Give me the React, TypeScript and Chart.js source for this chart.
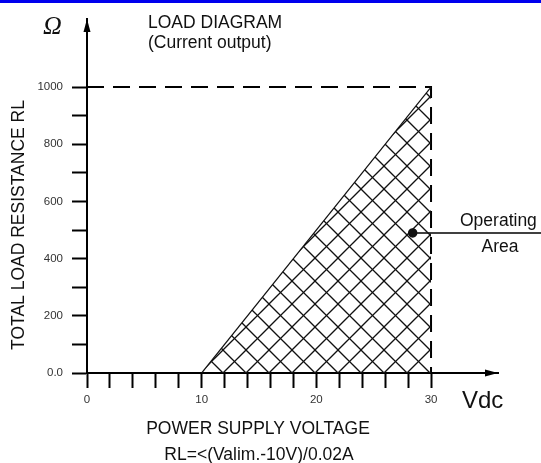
import React, { useEffect, useRef } from "react";
import { Chart, registerables } from "chart.js";

Chart.register(...registerables);

// ---- data ----
const hatchX = [10, 30];
const hatchY = [0, 1000];
const limitX = [0, 30, 30];
const limitY = [1000, 1000, 0];
const operatingX = [28.4, 39.6];
const operatingY = [490, 490];
const xMax = 35.84;
const yMax = 1238;
const xTickStep = 2;
const yTickStep = 100;
const xLabelEvery = 10;
const yLabelEvery = 200;
const xLastTick = 30;
const yLastTick = 1000;

const titleLines = ["LOAD DIAGRAM", "(Current output)"];
const yTitle = "TOTAL LOAD RESISTANCE RL";
const xTitle = "POWER SUPPLY VOLTAGE";
const formula = "RL=<(Valim.-10V)/0.02A";
const unitY = "Ω";
const unitX = "Vdc";
const opLabel = ["Operating", "Area"];

const FONT = "'Liberation Sans', Arial, sans-serif";

function makeHatch(): CanvasPattern | string {
  const s = 23;
  const c = document.createElement("canvas");
  c.width = s;
  c.height = s;
  const g = c.getContext("2d");
  if (!g) return "rgba(0,0,0,0.2)";
  g.strokeStyle = "#111";
  g.lineWidth = 1.3;
  for (const k of [-s, 0, s]) {
    g.beginPath();
    g.moveTo(-2 + k, -2);
    g.lineTo(s + 2 + k, s + 2);
    g.stroke();
    g.beginPath();
    g.moveTo(-2 + k, s + 2);
    g.lineTo(s + 2 + k, -2);
    g.stroke();
  }
  const p = g.createPattern(c, "repeat");
  if (!p) return "rgba(0,0,0,0.2)";
  try {
    p.setTransform(new DOMMatrix([1, 0, 0, 1, 223, 373]));
  } catch (e) {}
  return p;
}

const decorPlugin = {
  id: "decor",
  beforeDraw(chart: any) {
    const ctx = chart.ctx;
    ctx.save();
    ctx.fillStyle = "#0000ee";
    ctx.fillRect(0, 0, chart.width, 3);
    ctx.restore();
  },
  afterDraw(chart: any) {
    const ctx = chart.ctx;
    const { left, right, top, bottom } = chart.chartArea;
    ctx.save();
    ctx.fillStyle = "#000";
    // y arrow
    ctx.beginPath();
    ctx.moveTo(left, top);
    ctx.lineTo(left - 3.5, top + 13);
    ctx.lineTo(left + 3.5, top + 13);
    ctx.closePath();
    ctx.fill();
    // x arrow
    ctx.beginPath();
    ctx.moveTo(right, bottom);
    ctx.lineTo(right - 13, bottom - 3.5);
    ctx.lineTo(right - 13, bottom + 3.5);
    ctx.closePath();
    ctx.fill();

    ctx.fillStyle = "#111";
    ctx.textBaseline = "middle";
    // Omega
    ctx.font = "italic 26px 'Liberation Serif', 'DejaVu Serif', serif";
    ctx.textAlign = "left";
    ctx.fillText(unitY, 43, 27);
    // Title
    ctx.font = `17.5px ${FONT}`;
    ctx.fillText(titleLines[0], 148, 23);
    ctx.fillText(titleLines[1], 148, 43);
    // Vdc
    ctx.font = `24px ${FONT}`;
    ctx.fillText(unitX, 462, 401);
    // x titles
    ctx.font = `17.5px ${FONT}`;
    ctx.textAlign = "center";
    ctx.fillText(xTitle, 258, 429);
    ctx.fillText(formula, 259, 455);
    // operating label
    ctx.textAlign = "left";
    ctx.fillText(opLabel[0], 460, 221);
    ctx.textAlign = "center";
    ctx.fillText(opLabel[1], 500, 247);
    // y title
    ctx.save();
    ctx.translate(19, 225);
    ctx.rotate(-Math.PI / 2);
    ctx.textAlign = "center";
    ctx.fillText(yTitle, 0, 0);
    ctx.restore();
    ctx.restore();
  },
};

export default function App() {
  const ref = useRef<HTMLCanvasElement | null>(null);
  useEffect(() => {
    if (!ref.current) return;
    const pts = (xs: number[], ys: number[]) => xs.map((x, i) => ({ x, y: ys[i] }));
    const chart = new Chart(ref.current, {
      type: "scatter",
      data: {
        datasets: [
          {
            data: pts(hatchX, hatchY),
            showLine: true,
            fill: "origin",
            backgroundColor: makeHatch() as any,
            borderColor: "#111",
            borderWidth: 1.2,
            pointRadius: 0,
          },
          {
            data: pts(limitX, limitY),
            showLine: true,
            fill: false,
            borderColor: "#000",
            borderWidth: 2,
            borderDash: [17, 9],
            pointRadius: 0,
          },
          {
            data: pts(operatingX, operatingY),
            showLine: true,
            fill: false,
            borderColor: "#000",
            borderWidth: 1.5,
            pointRadius: [4, 0],
            pointBackgroundColor: "#111",
            pointBorderColor: "#111",
            clip: false as any,
          },
        ],
      },
      options: {
        animation: false,
        responsive: true,
        maintainAspectRatio: false,
        layout: { padding: { left: 0, right: 43, top: 19, bottom: 30 } },
        plugins: { legend: { display: false }, tooltip: { enabled: false } },
        scales: {
          x: {
            type: "linear",
            min: 0,
            max: xMax,
            afterFit: (s: any) => {
              s.height = 60;
            },
            afterBuildTicks: (s: any) => {
              s.ticks = s.ticks.filter((t: any) => t.value <= xLastTick + 1e-6);
            },
            border: { display: true, color: "#000", width: 2 },
            grid: {
              drawOnChartArea: false,
              drawTicks: true,
              tickLength: 15,
              tickWidth: 2,
              tickColor: "#000",
            },
            ticks: {
              stepSize: xTickStep,
              autoSkip: false,
              maxRotation: 0,
              padding: 5,
              color: "#333",
              font: { family: FONT, size: 11.5 },
              callback: (v: any) => (Number(v) % xLabelEvery === 0 ? String(v) : ""),
            },
          },
          y: {
            type: "linear",
            min: 0,
            max: yMax,
            afterFit: (s: any) => {
              s.width = 87;
            },
            afterBuildTicks: (s: any) => {
              s.ticks = s.ticks.filter((t: any) => t.value <= yLastTick + 1e-6);
            },
            border: { display: true, color: "#000", width: 2 },
            grid: {
              drawOnChartArea: false,
              drawTicks: true,
              tickLength: 15,
              tickWidth: 2,
              tickColor: "#000",
            },
            ticks: {
              stepSize: yTickStep,
              autoSkip: false,
              padding: 9,
              color: "#333",
              font: { family: FONT, size: 11.5 },
              callback: (v: any) =>
                Number(v) === 0 ? "0.0" : Number(v) % yLabelEvery === 0 ? String(v) : "",
            },
          },
        },
      },
      plugins: [decorPlugin],
    });
    return () => chart.destroy();
  }, []);
  return (
    <div style={{ position: "absolute", left: 0, top: 0, width: 541, height: 463 }}>
      <canvas ref={ref} />
    </div>
  );
}
